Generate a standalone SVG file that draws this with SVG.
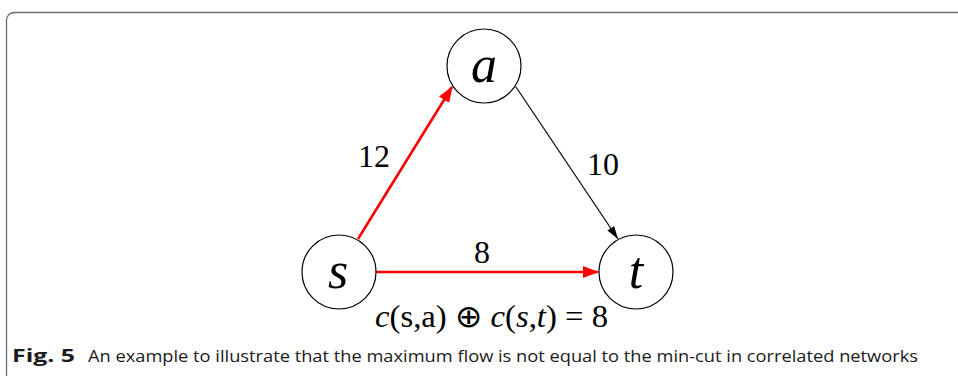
<svg xmlns="http://www.w3.org/2000/svg" width="958" height="376" viewBox="0 0 958 376">
<style>
.node{fill:#fff;stroke:#000;stroke-width:1.2}
.serif{font-family:'Liberation Serif',serif}
.nl{font-style:italic;font-size:52px;text-anchor:middle;fill:#000}
.el{font-size:32px;fill:#000}
.red{stroke:#f00;stroke-width:2.6;fill:none}
.blk{stroke:#000;stroke-width:1.2;fill:none}
.f{font-size:31px;fill:#000}
.it{font-style:italic}
.cap{font-family:'Open Sans','Noto Sans',sans-serif;font-size:17px;fill:#1a1a1a}
</style>
<defs>
<marker id="ar" markerWidth="16" markerHeight="12" refX="15" refY="6" orient="auto" markerUnits="userSpaceOnUse">
<path d="M0,0 L16,6 L0,12 Z" fill="#f00"/>
</marker>
<marker id="ab" markerWidth="13" markerHeight="8" refX="13" refY="4" orient="auto" markerUnits="userSpaceOnUse">
<path d="M0,0 L13,4 L0,8 Z" fill="#000"/>
</marker>
</defs>
<rect width="958" height="376" fill="#fff"/>
<path d="M6.5,376 V21 Q6.5,12.5 15,12.5 H958" fill="none" stroke="#6e6e6e" stroke-width="1.3"/>
<g id="connectors">
<line class="red" x1="358" y1="239" x2="452" y2="87" marker-end="url(#ar)"/>
<line class="red" x1="376" y1="272" x2="598" y2="272" marker-end="url(#ar)"/>
<line class="blk" x1="516" y1="87" x2="618" y2="239" marker-end="url(#ab)"/>
<text class="el serif" x="358" y="167">12</text>
<text class="el serif" x="587" y="175">10</text>
<text class="el serif" x="474" y="263">8</text>
</g>
<g id="node-a">
<circle class="node" cx="484" cy="66" r="37"/>
<text class="nl serif" x="484" y="82">a</text>
</g>
<g id="node-s">
<circle class="node" cx="339" cy="272" r="37"/>
<text class="nl serif" x="338" y="288">s</text>
</g>
<g id="node-t">
<circle class="node" cx="636" cy="272" r="37"/>
<text class="nl serif" x="636" y="288">t</text>
</g>
<text class="f serif" x="375" y="327" textLength="233" lengthAdjust="spacingAndGlyphs"><tspan class="it">c</tspan>(s,a) ⊕ <tspan class="it">c</tspan>(<tspan class="it">s</tspan>,<tspan class="it">t</tspan>) = 8</text>
<text class="cap" x="12" y="362" font-weight="bold" textLength="63" lengthAdjust="spacingAndGlyphs">Fig. 5</text>
<text class="cap" x="88" y="362" textLength="830" lengthAdjust="spacingAndGlyphs">An example to illustrate that the maximum flow is not equal to the min-cut in correlated networks</text>
</svg>
